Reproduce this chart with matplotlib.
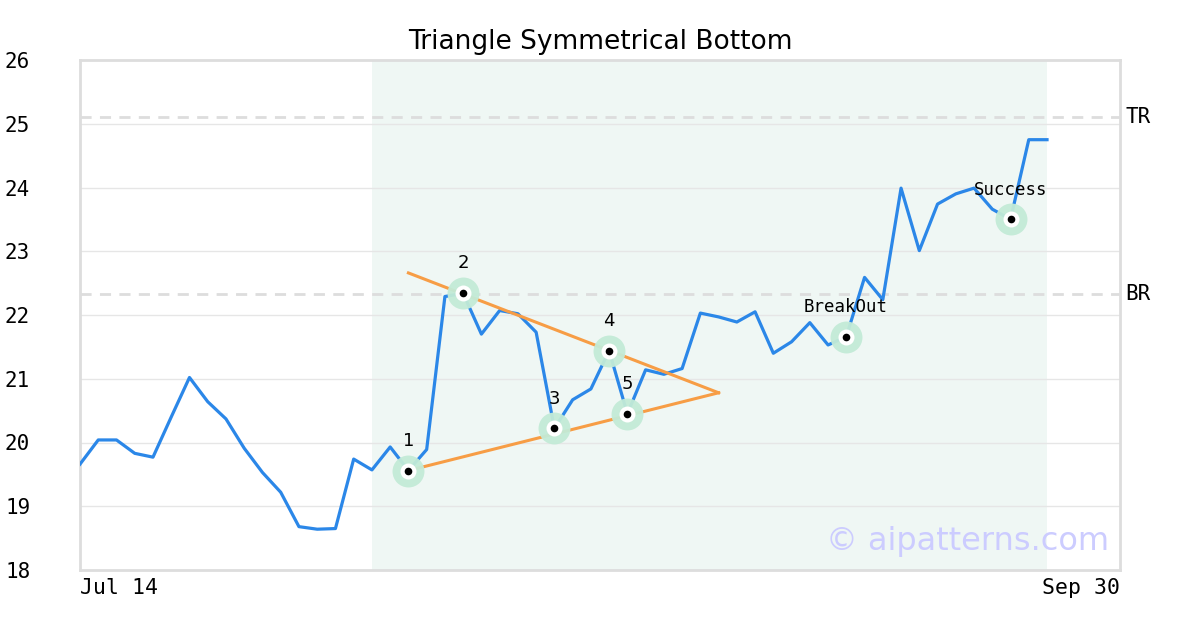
import matplotlib
matplotlib.use('Agg')
from matplotlib import pyplot as plt

# price series (one value per trading day)
prices = [19.66, 20.04, 20.04, 19.83, 19.77, 20.40, 21.02, 20.64, 20.37, 19.91,
          19.53, 19.22, 18.68, 18.64, 18.65, 19.74, 19.57, 19.93, 19.56, 19.89,
          22.29, 22.34, 21.70, 22.07, 22.02, 21.73, 20.22, 20.67, 20.84, 21.44,
          20.45, 21.14, 21.07, 21.16, 22.03, 21.97, 21.89, 22.05, 21.40, 21.58,
          21.88, 21.53, 21.66, 22.59, 22.24, 23.99, 23.01, 23.74, 23.90, 23.99,
          23.66, 23.50, 24.75, 24.75]
x = list(range(len(prices)))

# pattern points
pt_idx = [18, 21, 26, 29, 30]
pt_labels = ['1', '2', '3', '4', '5']
breakout_idx = 42
success_idx = 51

# triangle lines
upper_x = [18, 35]
upper_y = [22.66, 20.78]
lower_x = [18, 35]
lower_y = [19.56, 20.78]

tr_level = 25.11
br_level = 22.33
shade_start, shade_end = 16, 53
x_end = 57
x_labels = ['Jul 14', 'Sep 30']

mono = 'DejaVu Sans Mono'
blue = '#2b87e8'
orange = '#f79d45'
halo = '#c3ebd7'

fig = plt.figure(figsize=(12, 6.3), dpi=100)
ax = fig.add_axes([80/1200, 60/630, 1040/1200, 510/630])

ax.axvspan(shade_start, shade_end, color='#eff7f4', lw=0, zorder=0)
for v in range(19, 26):
    ax.axhline(v, color='#e6e6e6', lw=1, zorder=1)
for lvl in [tr_level, br_level]:
    ax.axhline(lvl, color='#dddddd', lw=2, ls=(0, (4, 3)), zorder=1)

ax.plot(x, prices, color=blue, lw=2.3, zorder=3)
ax.plot(upper_x, upper_y, color=orange, lw=2.2, zorder=4)
ax.plot(lower_x, lower_y, color=orange, lw=2.2, zorder=4)

marks = pt_idx + [breakout_idx, success_idx]
mx = [x[i] for i in marks]
my = [prices[i] for i in marks]
ax.plot(mx, my, 'o', ms=23, color=halo, mec='none', zorder=5, alpha=0.95)
ax.plot(mx, my, 'o', ms=11.5, color='white', mec='none', zorder=6)
ax.plot(mx, my, 'o', ms=5.5, color='black', mec='none', zorder=7)

for i, lab in zip(pt_idx, pt_labels):
    ax.annotate(lab, (x[i], prices[i]), xytext=(0, 15), textcoords='offset points',
                ha='center', va='bottom', fontsize=13, zorder=8)
ax.annotate('BreakOut', (x[breakout_idx], prices[breakout_idx]), xytext=(-0.5, 15),
            textcoords='offset points', ha='center', va='bottom', fontsize=12.5,
            family=mono, zorder=8)
ax.annotate('Success', (x[success_idx], prices[success_idx]), xytext=(0, 15),
            textcoords='offset points', ha='center', va='bottom', fontsize=12.5,
            family=mono, zorder=8)

ax.text(1.005, tr_level, 'TR', transform=ax.get_yaxis_transform(), ha='left',
        va='center', fontsize=15, family=mono)
ax.text(1.005, br_level, 'BR', transform=ax.get_yaxis_transform(), ha='left',
        va='center', fontsize=15, family=mono)

ax.text(0.99, 0.055, '\u00a9 aipatterns.com', transform=ax.transAxes, ha='right',
        va='center', fontsize=23, color='#ccccff', zorder=9)

ax.set_xlim(0, x_end)
ax.set_ylim(18, 26)
ax.set_yticks(range(18, 27))
ax.set_yticklabels([str(v) for v in range(18, 27)], family=mono, fontsize=15, ha='left')
ax.tick_params(axis='y', length=0, pad=54)
ax.set_xticks([0, x_end])
xt = ax.set_xticklabels(x_labels, family=mono, fontsize=15.5)
xt[0].set_ha('left')
xt[1].set_ha('right')
ax.tick_params(axis='x', length=0, pad=6)

for s in ax.spines.values():
    s.set_color('#dddddd')
    s.set_linewidth(2)

ax.set_title('Triangle Symmetrical Bottom', fontsize=19, pad=8)
fig.savefig('out.png', dpi=100)
